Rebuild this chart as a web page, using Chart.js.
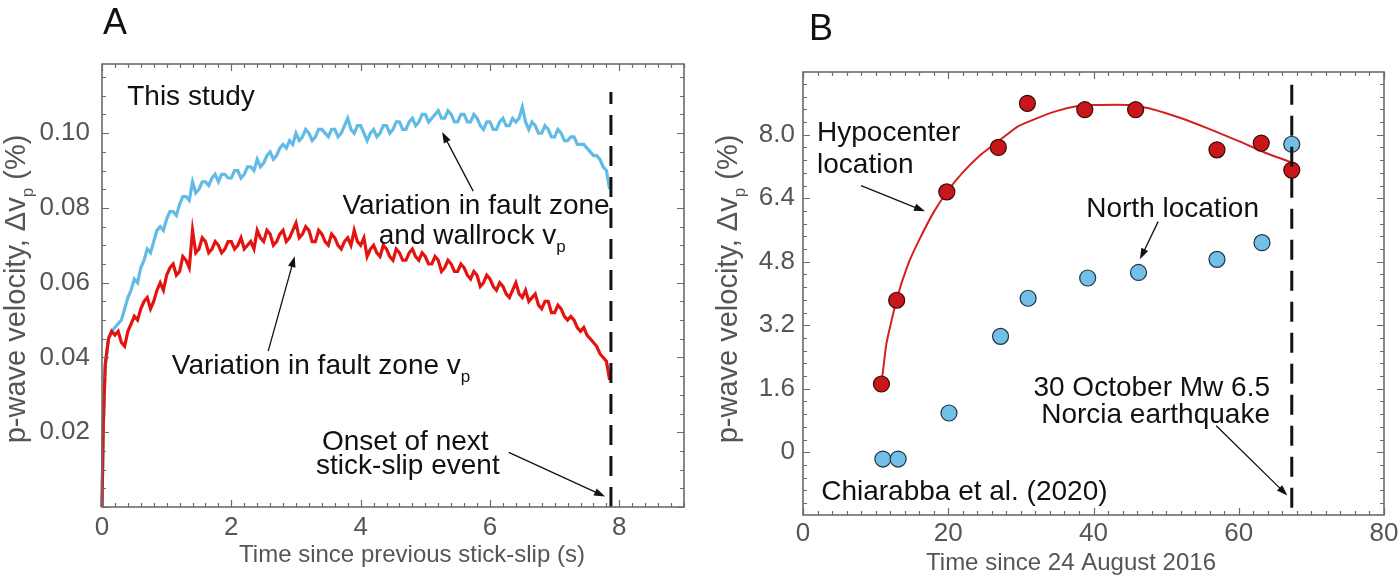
<!DOCTYPE html>
<html>
<head>
<meta charset="utf-8">
<script src="https://cdn.jsdelivr.net/npm/chart.js@4.4.1/dist/chart.umd.min.js"></script>
<style>
  html, body { margin: 0; padding: 0; background: #fff; }
  #wrap { position: relative; width: 1400px; height: 579px; overflow: hidden; }
  .panel { position: absolute; top: 0; width: 700px; height: 579px; }
</style>
</head>
<body>
<div id="wrap">
  <div class="panel" style="left:0"><canvas id="chartA" width="700" height="579"></canvas></div>
  <div class="panel" style="left:700px"><canvas id="chartB" width="700" height="579"></canvas></div>
</div>
<script>
// ---- Panel A: lab stick-slip, p-wave velocity change (%) vs time (s)
const timeA = [0, 0.02, 0.05, 0.1, 0.15, 0.2, 0.25, 0.3, 0.35, 0.4, 0.45,
  0.5, 0.55, 0.6, 0.65, 0.7, 0.75, 0.8, 0.85, 0.9, 0.95,
  1.0, 1.05, 1.1, 1.15, 1.2, 1.25, 1.3, 1.35, 1.4, 1.45, 1.5, 1.55, 1.6, 1.65, 1.7, 1.75, 1.8, 1.85, 1.9, 1.95,
  2.0, 2.05, 2.1, 2.15, 2.2, 2.25, 2.3, 2.35, 2.4, 2.45, 2.5, 2.55, 2.6, 2.65, 2.7, 2.75, 2.8, 2.85, 2.9, 2.95,
  3.0, 3.05, 3.1, 3.15, 3.2, 3.25, 3.3, 3.35, 3.4, 3.45, 3.5, 3.55, 3.6, 3.65, 3.7, 3.75, 3.8, 3.85, 3.9, 3.95,
  4.0, 4.05, 4.1, 4.15, 4.2, 4.25, 4.3, 4.35, 4.4, 4.45, 4.5, 4.55, 4.6, 4.65, 4.7, 4.75, 4.8, 4.85, 4.9, 4.95,
  5.0, 5.05, 5.1, 5.15, 5.2, 5.25, 5.3, 5.35, 5.4, 5.45, 5.5, 5.55, 5.6, 5.65, 5.7, 5.75, 5.8, 5.85, 5.9, 5.95,
  6.0, 6.05, 6.1, 6.15, 6.2, 6.25, 6.3, 6.35, 6.4, 6.45, 6.5, 6.55, 6.6, 6.65, 6.7, 6.75, 6.8, 6.85, 6.9, 6.95,
  7.0, 7.05, 7.1, 7.15, 7.2, 7.25, 7.3, 7.35, 7.4, 7.45, 7.5, 7.55, 7.6, 7.65, 7.7, 7.75, 7.8, 7.85];

// fault zone only (red)
const faultZoneVp = [0, 0.022, 0.038, 0.045, 0.047, 0.046, 0.047, 0.044, 0.043, 0.047, 0.049,
  0.051, 0.050, 0.053, 0.055, 0.056, 0.053, 0.055, 0.058, 0.060, 0.058,
  0.062, 0.064, 0.065, 0.062, 0.063, 0.067, 0.066, 0.064, 0.074, 0.068, 0.069, 0.072, 0.071, 0.068, 0.069, 0.071, 0.070, 0.068, 0.069, 0.071,
  0.071, 0.069, 0.070, 0.072, 0.069, 0.070, 0.071, 0.069, 0.074, 0.072, 0.071, 0.074, 0.073, 0.070, 0.071, 0.073, 0.074, 0.071, 0.072, 0.074,
  0.076, 0.072, 0.073, 0.075, 0.074, 0.071, 0.071, 0.074, 0.073, 0.071, 0.070, 0.073, 0.072, 0.070, 0.069, 0.071, 0.072, 0.070, 0.074, 0.071,
  0.070, 0.072, 0.067, 0.069, 0.070, 0.068, 0.067, 0.070, 0.069, 0.067, 0.066, 0.069, 0.068, 0.066, 0.066, 0.068, 0.069, 0.067, 0.066, 0.068,
  0.067, 0.065, 0.065, 0.067, 0.066, 0.063, 0.064, 0.066, 0.065, 0.063, 0.063, 0.065, 0.064, 0.062, 0.061, 0.063, 0.062, 0.059, 0.060, 0.062,
  0.061, 0.059, 0.058, 0.060, 0.059, 0.057, 0.056, 0.058, 0.060, 0.057, 0.056, 0.058, 0.055, 0.056, 0.057, 0.054, 0.053, 0.055, 0.055, 0.052,
  0.052, 0.054, 0.053, 0.051, 0.050, 0.051, 0.050, 0.048, 0.047, 0.048, 0.046, 0.045, 0.044, 0.043, 0.041, 0.040, 0.039, 0.034];

// fault zone and wallrock (blue)
const faultWallVp = [0, 0.022, 0.038, 0.045, 0.047, 0.048, 0.049, 0.050, 0.053, 0.056, 0.058,
  0.061, 0.060, 0.064, 0.066, 0.069, 0.068, 0.071, 0.074, 0.075, 0.074,
  0.077, 0.079, 0.079, 0.078, 0.081, 0.083, 0.083, 0.082, 0.087, 0.084, 0.085, 0.087, 0.087, 0.086, 0.088, 0.089, 0.087, 0.089, 0.089, 0.088,
  0.088, 0.090, 0.090, 0.088, 0.089, 0.091, 0.091, 0.090, 0.093, 0.091, 0.092, 0.094, 0.095, 0.093, 0.094, 0.096, 0.097, 0.096, 0.098, 0.097,
  0.100, 0.098, 0.099, 0.101, 0.100, 0.098, 0.099, 0.101, 0.101, 0.100, 0.099, 0.101, 0.101, 0.099, 0.100, 0.102, 0.104, 0.101, 0.100, 0.102,
  0.102, 0.100, 0.098, 0.100, 0.101, 0.099, 0.100, 0.102, 0.102, 0.100, 0.101, 0.103, 0.103, 0.101, 0.101, 0.103, 0.104, 0.102, 0.103, 0.105,
  0.105, 0.103, 0.104, 0.105, 0.106, 0.104, 0.104, 0.106, 0.105, 0.103, 0.103, 0.105, 0.105, 0.103, 0.103, 0.105, 0.104, 0.102, 0.101, 0.103,
  0.103, 0.101, 0.101, 0.103, 0.104, 0.102, 0.102, 0.104, 0.103, 0.104, 0.107, 0.103, 0.101, 0.103, 0.102, 0.100, 0.100, 0.102, 0.101, 0.099,
  0.099, 0.101, 0.100, 0.098, 0.098, 0.099, 0.099, 0.097, 0.097, 0.097, 0.096, 0.095, 0.094, 0.094, 0.093, 0.091, 0.090, 0.085];

const onsetA = 7.87;
const onsetSpanA = [0, 0.111];

// ---- Panel B: Norcia sequence, days since 24 August 2016
const dayHypo = [10.8, 12.9, 19.8, 26.9, 30.9, 38.8, 45.8, 57.0, 63.1, 67.3];
const dvHypo = [1.72, 3.83, 6.56, 7.68, 8.79, 8.63, 8.63, 7.62, 7.79, 7.11];
const dayNorth = [11.0, 13.1, 20.1, 27.2, 31.0, 39.2, 46.2, 57.0, 63.2, 67.3];
const dvNorth = [-0.17, -0.17, 0.99, 2.92, 3.88, 4.39, 4.53, 4.86, 5.28, 7.76];
const fitDay = [10.8, 11.5, 12.9, 14.5, 16, 18, 19.8, 22, 24.5, 27, 29.5, 32, 35, 38, 40, 45, 48, 52, 56, 60, 64, 67.3];
const fitDv = [1.72, 2.75, 3.85, 4.75, 5.35, 6.05, 6.55, 7.05, 7.5, 7.85, 8.2, 8.4, 8.6, 8.73, 8.75, 8.75, 8.65, 8.42, 8.14, 7.84, 7.52, 7.3];
const norciaDay = 67.3;
const norciaSpan = [-1.4, 9.3];

const xTicksA = [0, 2, 4, 6, 8];
const yTicksA = [0.02, 0.04, 0.06, 0.08, 0.10];
const xTicksB = [0, 20, 40, 60, 80];
const yTicksB = [0, 1.6, 3.2, 4.8, 6.4, 8.0];

const FONT = "'Liberation Sans', Arial, Helvetica, sans-serif";
const GREY = '#555';
const INK = '#111';
const NOTE_SIZE = 28;

const pts = (xs, ys) => xs.map((x, i) => ({ x: x, y: ys[i] }));

function richText(ctx, parts, x, y, align, size, color) {
  ctx.save();
  ctx.fillStyle = color;
  ctx.textBaseline = 'middle';
  ctx.textAlign = 'left';
  const sub = Math.round(size * 0.6);
  const widths = parts.map(p => {
    ctx.font = (p.sub ? sub : size) + 'px ' + FONT;
    return ctx.measureText(p.t).width;
  });
  const total = widths.reduce((a, b) => a + b, 0);
  let cx = align === 'center' ? x - total / 2 : align === 'right' ? x - total : x;
  parts.forEach((p, i) => {
    ctx.font = (p.sub ? sub : size) + 'px ' + FONT;
    ctx.fillText(p.t, cx, p.sub ? y + size * 0.4 : y);
    cx += widths[i];
  });
  ctx.restore();
}

function arrow(ctx, x1, y1, x2, y2) {
  const a = Math.atan2(y2 - y1, x2 - x1), L = 11, W = 3.8;
  const c = Math.cos(a), s = Math.sin(a);
  ctx.save();
  ctx.strokeStyle = INK;
  ctx.fillStyle = INK;
  ctx.lineWidth = 1.3;
  ctx.beginPath();
  ctx.moveTo(x1, y1);
  ctx.lineTo(x2 - L * 0.8 * c, y2 - L * 0.8 * s);
  ctx.stroke();
  ctx.beginPath();
  ctx.moveTo(x2, y2);
  ctx.lineTo(x2 - L * c + W * s, y2 - L * s - W * c);
  ctx.lineTo(x2 - L * c - W * s, y2 - L * s + W * c);
  ctx.closePath();
  ctx.fill();
  ctx.restore();
}

// box, inward ticks on all four sides, letters, titles and notes
function makeFrame(cfg) {
  return {
    id: 'frame',
    afterDraw(chart) {
      const ctx = chart.ctx, a = chart.chartArea;
      const xs = chart.scales.x, ys = chart.scales.y;
      const isMajor = (v, m) => Math.abs(v / m - Math.round(v / m)) < 1e-6;
      ctx.save();
      ctx.strokeStyle = '#6b6b6b';
      ctx.lineWidth = 1.2;
      ctx.beginPath();
      for (let v = cfg.xFrom; v <= xs.max + 1e-9; v += cfg.xStep) {
        const p = Math.round(xs.getPixelForValue(v)) + 0.5;
        const l = isMajor(v, cfg.xMajor) ? 7 : 4;
        ctx.moveTo(p, a.bottom); ctx.lineTo(p, a.bottom - l);
        ctx.moveTo(p, a.top); ctx.lineTo(p, a.top + l);
      }
      for (let v = cfg.yFrom; v <= ys.max + 1e-9; v += cfg.yStep) {
        const p = Math.round(ys.getPixelForValue(v)) + 0.5;
        const l = isMajor(v, cfg.yMajor) ? 7 : 4;
        ctx.moveTo(a.left, p); ctx.lineTo(a.left + l, p);
        ctx.moveTo(a.right, p); ctx.lineTo(a.right - l, p);
      }
      ctx.stroke();
      ctx.lineWidth = 1.6;
      ctx.strokeRect(a.left, a.top, a.right - a.left, a.bottom - a.top);
      ctx.restore();

      richText(ctx, [{ t: cfg.letter }], cfg.letterPos[0], cfg.letterPos[1], 'left', 36, INK);
      richText(ctx, [{ t: cfg.xTitle }], cfg.xTitlePos[0], cfg.xTitlePos[1], 'center', 24, GREY);
      ctx.save();
      ctx.translate(cfg.yTitlePos[0], cfg.yTitlePos[1]);
      ctx.rotate(-Math.PI / 2);
      richText(ctx, [{ t: 'p-wave velocity, \u0394v' }, { t: 'p', sub: true }, { t: ' (%)' }], 0, 0, 'center', 29, GREY);
      ctx.restore();

      cfg.notes.forEach(n => richText(ctx, n.parts, xs.getPixelForValue(n.at[0]), ys.getPixelForValue(n.at[1]), n.align, NOTE_SIZE, INK));
      cfg.arrows.forEach(r => arrow(ctx, xs.getPixelForValue(r[0]), ys.getPixelForValue(r[1]),
        xs.getPixelForValue(r[2]), ys.getPixelForValue(r[3])));
    }
  };
}

function axes(xr, yr, xt, yt, yFmt, yWidth, xHeight, xPad, yPad) {
  const tickFont = { family: FONT, size: 26 };
  return {
    x: {
      type: 'linear', min: xr[0], max: xr[1],
      afterBuildTicks: s => { s.ticks = xt.map(v => ({ value: v })); },
      afterFit: s => { s.height = xHeight; s.paddingLeft = 0; s.paddingRight = 0; },
      ticks: { font: tickFont, color: GREY, padding: xPad, maxRotation: 0, callback: v => String(v) },
      grid: { display: false, drawTicks: false },
      border: { display: false }
    },
    y: {
      type: 'linear', min: yr[0], max: yr[1],
      afterBuildTicks: s => { s.ticks = yt.map(v => ({ value: v })); },
      afterFit: s => { s.width = yWidth; s.paddingTop = 0; s.paddingBottom = 0; },
      ticks: { font: tickFont, color: GREY, padding: yPad, callback: yFmt },
      grid: { display: false, drawTicks: false },
      border: { display: false }
    }
  };
}

new Chart(document.getElementById('chartA'), {
  type: 'line',
  data: {
    datasets: [
      { data: pts([onsetA, onsetA], onsetSpanA), borderColor: INK, borderWidth: 3, borderDash: [20, 11], pointRadius: 0, order: 0 },
      { data: pts(timeA, faultZoneVp), borderColor: '#e3140f', borderWidth: 3.2, pointRadius: 0, tension: 0, order: 1, clip: 6 },
      { data: pts(timeA, faultWallVp), borderColor: '#62bbe6', borderWidth: 3.2, pointRadius: 0, tension: 0, order: 2, clip: 6 }
    ]
  },
  options: {
    responsive: false, animation: false,
    layout: { padding: { left: 0, top: 64, right: 16, bottom: 0 } },
    plugins: { legend: { display: false }, tooltip: { enabled: false } },
    scales: axes([0, 9], [0, 0.1185], xTicksA, yTicksA, v => v.toFixed(2), 102, 72, 5, 12)
  },
  plugins: [makeFrame({
    xFrom: 0, xStep: 0.2, xMajor: 2, yFrom: 0, yStep: 0.005, yMajor: 0.02,
    letter: 'A', letterPos: [103, 24],
    xTitle: 'Time since previous stick-slip (s)', xTitlePos: [412, 555],
    yTitlePos: [17, 289],
    notes: [
      { parts: [{ t: 'This study' }], at: [0.39, 0.1097], align: 'left' },
      { parts: [{ t: 'Variation in fault zone' }], at: [7.85, 0.0805], align: 'right' },
      { parts: [{ t: 'and wallrock v' }, { t: 'p', sub: true }], at: [7.17, 0.0724], align: 'right' },
      { parts: [{ t: 'Variation in fault zone v' }, { t: 'p', sub: true }], at: [1.08, 0.0377], align: 'left' },
      { parts: [{ t: 'Onset of next' }], at: [4.69, 0.0173], align: 'center' },
      { parts: [{ t: 'stick-slip event' }], at: [4.73, 0.0109], align: 'center' }
    ],
    arrows: [
      [5.74, 0.0845, 5.26, 0.1003],
      [2.57, 0.0417, 2.98, 0.0671],
      [6.29, 0.0146, 7.78, 0.0028]
    ]
  })]
});

new Chart(document.getElementById('chartB'), {
  type: 'line',
  data: {
    datasets: [
      { data: pts([norciaDay, norciaDay], norciaSpan), borderColor: INK, borderWidth: 3, borderDash: [20, 11], pointRadius: 0, order: 0 },
      { data: pts(dayHypo, dvHypo), showLine: false, pointRadius: 8, pointBackgroundColor: '#c8161a', pointBorderColor: '#3a0a0a', pointBorderWidth: 1.2, order: 1 },
      { data: pts(dayNorth, dvNorth), showLine: false, pointRadius: 8, pointBackgroundColor: '#72bfe8', pointBorderColor: '#1f3340', pointBorderWidth: 1.2, order: 2 },
      { data: pts(fitDay, fitDv), borderColor: '#d42020', borderWidth: 2, pointRadius: 0, tension: 0.15, order: 3 }
    ]
  },
  options: {
    responsive: false, animation: false,
    layout: { padding: { left: 0, top: 72, right: 16, bottom: 0 } },
    plugins: { legend: { display: false }, tooltip: { enabled: false } },
    scales: axes([0, 80], [-1.58, 9.58], xTicksB, yTicksB, v => (v === 0 ? '0' : v.toFixed(1)), 103, 64, 3, 8)
  },
  plugins: [makeFrame({
    xFrom: 0, xStep: 2, xMajor: 20, yFrom: -1.28, yStep: 0.32, yMajor: 1.6,
    letter: 'B', letterPos: [109, 30],
    xTitle: 'Time since 24 August 2016', xTitlePos: [371, 563],
    yTitlePos: [29, 289],
    notes: [
      { parts: [{ t: 'Hypocenter' }], at: [1.93, 8.03], align: 'left' },
      { parts: [{ t: 'location' }], at: [1.93, 7.22], align: 'left' },
      { parts: [{ t: 'North location' }], at: [39.0, 6.12], align: 'left' },
      { parts: [{ t: '30 October Mw 6.5' }], at: [64.3, 1.60], align: 'right' },
      { parts: [{ t: 'Norcia earthquake' }], at: [64.3, 0.94], align: 'right' },
      { parts: [{ t: 'Chiarabba et al. (2020)' }], at: [2.5, -1.02], align: 'left' }
    ],
    arrows: [
      [8.0, 6.72, 16.8, 6.07],
      [48.9, 5.81, 46.4, 4.86],
      [56.9, 0.67, 66.7, -1.09]
    ]
  })]
});
</script>
</body>
</html>
